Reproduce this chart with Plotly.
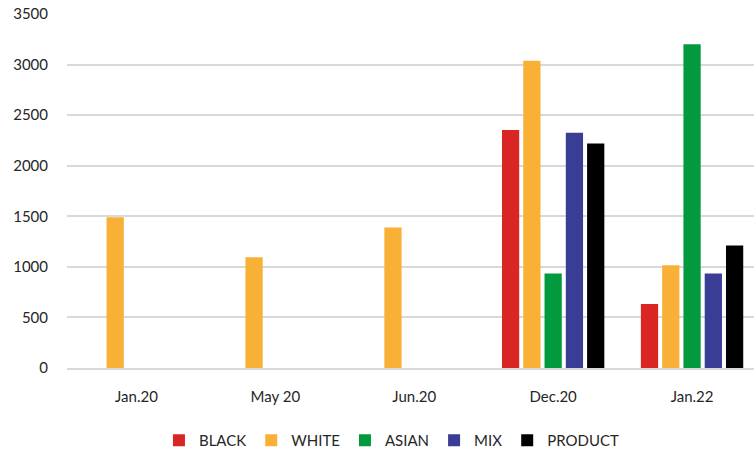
import plotly.graph_objects as go

categories = ["Jan.20", "May 20", "Jun.20", "Dec.20", "Jan.22"]
black = [None, None, None, 2353, 634]
white = [1490, 1095, 1389, 3039, 1017]
asian = [None, None, None, 935, 3200]
mix = [None, None, None, 2327, 935]
product = [None, None, None, 2219, 1210]

series = [
    ("BLACK", black, "#D92625"),
    ("WHITE", white, "#F8B036"),
    ("ASIAN", asian, "#03993E"),
    ("MIX", mix, "#3A3D96"),
    ("PRODUCT", product, "#000000"),
]

font_family = "Lato, 'Open Sans', sans-serif"

fig = go.Figure()
for name, vals, color in series:
    fig.add_trace(go.Bar(
        name=name, x=categories, y=vals,
        marker=dict(color=color, line=dict(width=0)),
    ))

fig.update_layout(
    width=754, height=457,
    margin=dict(l=66.5, r=0, t=14, b=86),
    paper_bgcolor="white", plot_bgcolor="white",
    barmode="group", bargap=0.234, bargroupgap=0.19,
    font=dict(family=font_family, size=15, color="#262626"),
    showlegend=True,
    legend=dict(orientation="h", x=0.473, xanchor="center", y=-0.205, yanchor="middle",
                font=dict(size=15, color="#262626"), traceorder="normal",
                itemsizing="constant"),
    xaxis=dict(type="category", range=[-0.5, 4.446], showgrid=False, showline=True,
               linecolor="#D9D9D9", linewidth=2, ticks="", ticklabelstandoff=14,
               tickfont=dict(size=15, color="#262626")),
    yaxis=dict(range=[0, 3500], dtick=500, showgrid=True, gridcolor="#D9D9D9",
               gridwidth=1.5, zeroline=False, ticks="", ticklabelstandoff=18,
               tickfont=dict(size=15, color="#262626")),
)

fig.write_html("out.html", config={"displayModeBar": False},
               post_script="document.body.style.margin='0';document.body.style.overflow='hidden';")
